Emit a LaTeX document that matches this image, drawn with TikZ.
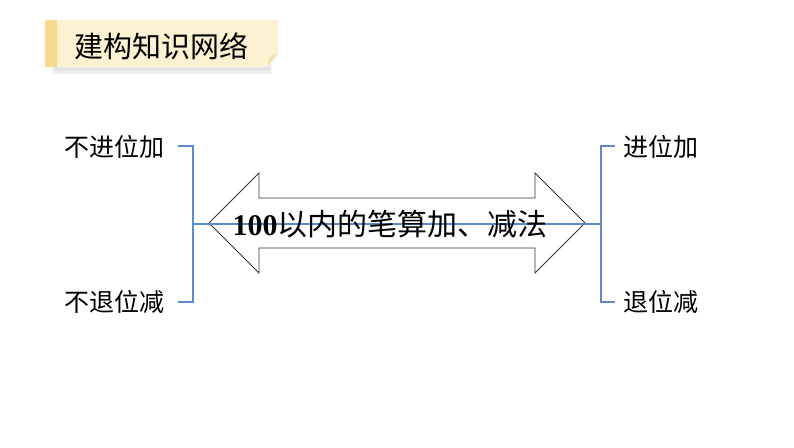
\documentclass[tikz,border=0pt]{standalone}
\usepackage{fontspec}
\setmainfont{Liberation Serif}
\newfontfamily\cjk{Noto Sans CJK SC}
\definecolor{bluel}{HTML}{5B8CC8}
\definecolor{cream}{HTML}{FCF1D0}
\definecolor{stripe}{HTML}{F6D98C}
\definecolor{foldc}{HTML}{F3E2AE}
\tikzset{
  bline/.style={draw=bluel, line width=1.4pt},
  lab/.style={font=\cjk\fontsize{25}{25}\selectfont, inner sep=0pt},
  arrowshape/.style={draw=black!80, line width=0.8pt, fill=white, line join=miter}
}
\begin{document}
\begin{tikzpicture}[x=1pt,y=-1pt]
\useasboundingbox (0,0) rectangle (794,447);
% banner shadow
\fill[black, opacity=0.06] (52,64) rectangle (272,74);
\fill[black, opacity=0.06] (54,66) rectangle (270,71);
% banner
\fill[cream] (45,20) -- (278,20) -- (278,54) -- (267,67) -- (45,67) -- cycle;
\fill[foldc] (278,54) -- (267,67) -- (270,56) -- cycle;
\fill[stripe] (45,20) rectangle (57,67);
\node[font=\cjk\fontsize{29}{29}\selectfont, inner sep=0pt] (title) at (161,46) {建构知识网络};
% labels
\node[lab] (l1) at (114,147) {不进位加};
\node[lab] (l2) at (114,302) {不退位减};
\node[lab] (r1) at (661,147) {进位加};
\node[lab] (r2) at (661,302) {退位减};
% bracket coordinates
\coordinate (la) at (178,146);
\coordinate (lb) at (193,146);
\coordinate (lc) at (193,302);
\coordinate (ld) at (178,302);
\coordinate (lm) at (193,224);
\coordinate (ra) at (615,146);
\coordinate (rb) at (601,146);
\coordinate (rc) at (601,302);
\coordinate (rd) at (615,302);
\coordinate (rm) at (601,224);
% double arrow
\draw[arrowshape] (209,223) -- (259,173) -- (259,198) -- (535,198) -- (535,173) -- (585,223)
  -- (535,273) -- (535,248) -- (259,248) -- (259,273) -- cycle;
% brackets
\draw[bline] (la) -- (lb) -- (lc) -- (ld);
\draw[bline] (ra) -- (rb) -- (rc) -- (rd);
\draw[draw=bluel, line width=1.1pt] (lm) -- (rm);
% center text
\node[inner sep=0pt] (center) at (390,224) {\fontsize{30}{30}\selectfont\textbf{100}\cjk 以内的笔算加、减法};
\end{tikzpicture}
\end{document}
